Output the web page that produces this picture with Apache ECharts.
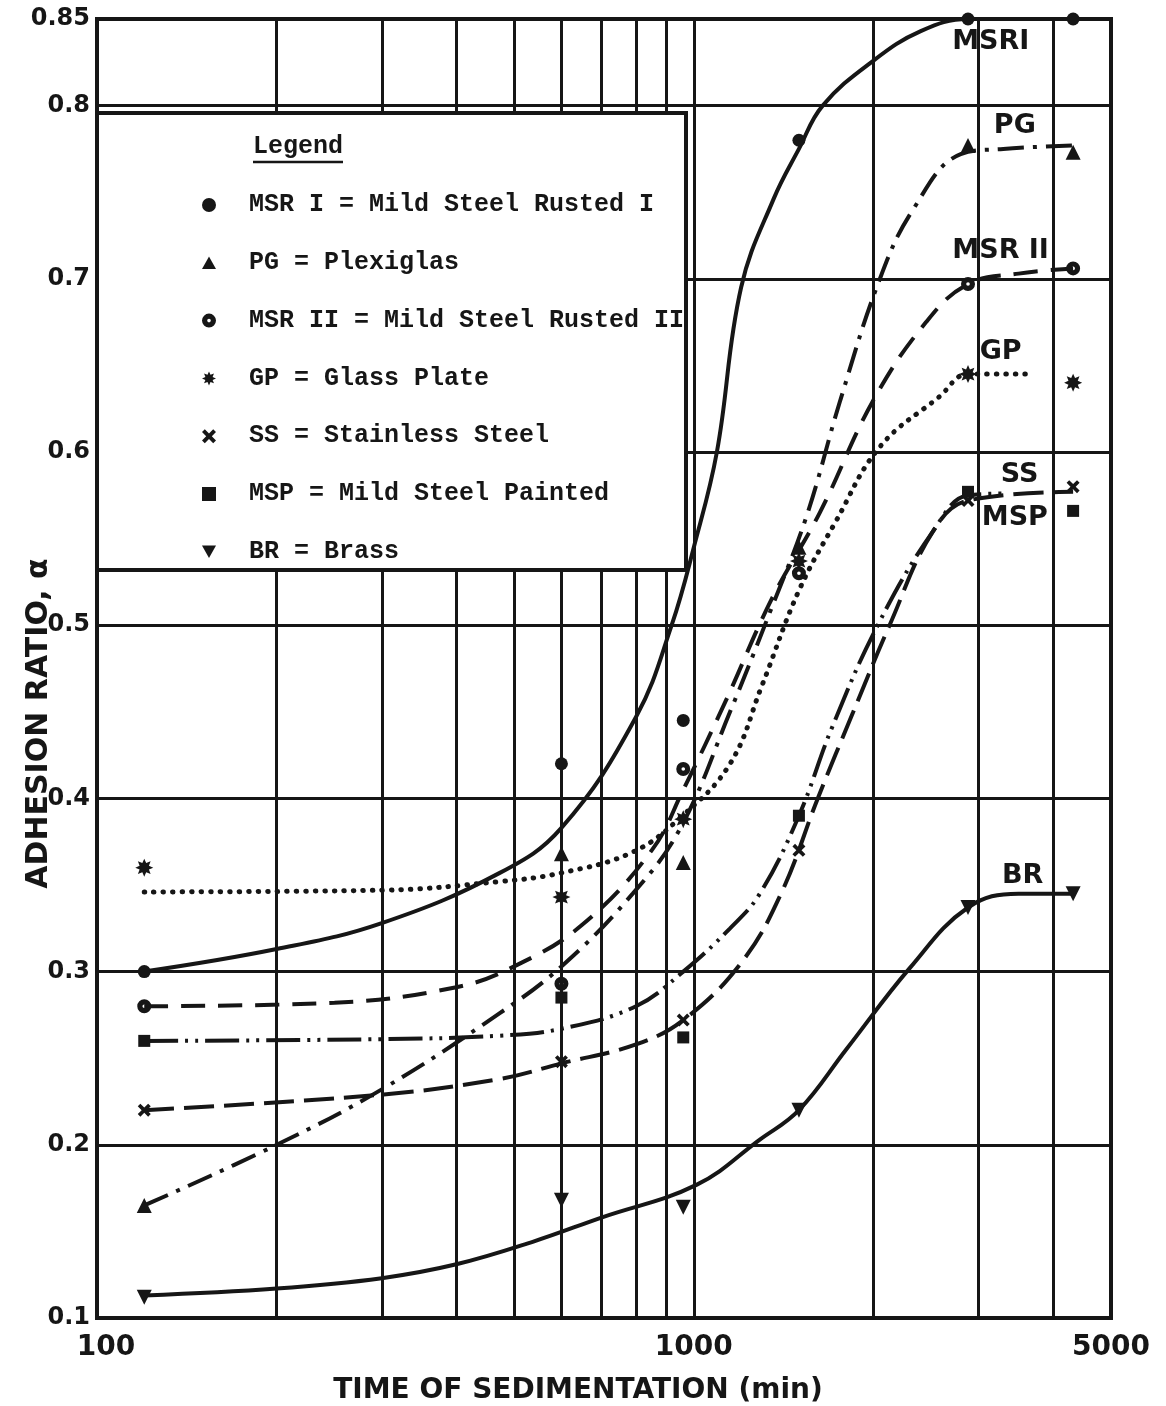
<!DOCTYPE html>
<html>
<head>
<meta charset="utf-8">
<script src="https://cdn.jsdelivr.net/npm/echarts@6/dist/echarts.min.js"></script>
<style>
  html, body { margin: 0; padding: 0; background: #ffffff; }
  #chart { width: 1166px; height: 1406px; }
</style>
</head>
<body>
<div id="chart"></div>
<script>
// Sampling times (min)
const times = [120, 600, 960, 1500, 2880, 4320];

// Measured adhesion ratios at each sampling time
const msr1 = [0.30, 0.42, 0.445, 0.78, 0.85, 0.85];
const pg   = [0.165, 0.368, 0.363, 0.545, 0.777, 0.773];
const msr2 = [0.28, 0.293, 0.417, 0.53, 0.697, 0.706];
const gp   = [0.36, 0.343, 0.388, 0.537, 0.645, 0.64];
const ss   = [0.22, 0.248, 0.272, 0.37, 0.572, 0.58];
const msp  = [0.26, 0.285, 0.262, 0.39, 0.577, 0.566];
const br   = [0.112, 0.168, 0.164, 0.22, 0.337, 0.345];

// Hand-fitted trend curves, [time, ratio]
const msr1Fit = [[120,0.30],[200,0.313],[300,0.328],[473,0.357],[600,0.383],[800,0.447],[918,0.50],[1000,0.545],[1093,0.60],[1200,0.695],[1360,0.746],[1500,0.775],[1644,0.80],[2000,0.826],[2400,0.843],[2880,0.85],[4320,0.85]];
const pgFit   = [[120,0.165],[200,0.20],[300,0.232],[473,0.276],[600,0.303],[790,0.345],[950,0.383],[1150,0.45],[1350,0.51],[1545,0.563],[1760,0.63],[2050,0.70],[2330,0.74],[2800,0.772],[3300,0.775],[4320,0.777]];
const msr2Fit = [[120,0.28],[250,0.282],[400,0.291],[500,0.303],[650,0.327],[850,0.37],[960,0.405],[1130,0.456],[1350,0.515],[1626,0.565],[2000,0.63],[2450,0.675],[2880,0.697],[3500,0.703],[4320,0.706]];
const gpFit   = [[120,0.346],[300,0.347],[473,0.352],[600,0.357],[790,0.369],[950,0.389],[1150,0.42],[1300,0.465],[1500,0.52],[1730,0.56],[2050,0.603],[2580,0.632],[2880,0.645],[3700,0.645]];
const ssFit   = [[120,0.22],[300,0.229],[473,0.238],[600,0.247],[800,0.258],[960,0.272],[1200,0.305],[1400,0.345],[1613,0.40],[1850,0.45],[2128,0.50],[2514,0.554],[2880,0.572],[4320,0.577]];
const mspFit  = [[120,0.26],[300,0.261],[473,0.263],[600,0.267],[800,0.28],[960,0.30],[1150,0.325],[1290,0.345],[1500,0.39],[1700,0.44],[2033,0.50],[2514,0.554],[2880,0.575],[3300,0.576]];
const brFit   = [[120,0.113],[200,0.117],[300,0.123],[400,0.131],[537,0.144],[700,0.158],[1012,0.177],[1290,0.203],[1500,0.22],[1800,0.255],[2300,0.302],[2880,0.337],[3500,0.345],[4320,0.345]];

// Graph-paper rulings
const gridTimes = [200, 300, 400, 500, 600, 700, 800, 900, 1000, 2000, 3000, 4000];

// Curve tags: [text, time, ratio]
const curveTags = [
  ['MSRI', 3145, 0.837],
  ['PG', 3450, 0.788],
  ['MSR II', 3266, 0.716],
  ['GP', 3266, 0.658],
  ['SS', 3515, 0.587],
  ['MSP', 3450, 0.562],
  ['BR', 3556, 0.355]
];

const legendNames = [
  'MSR I = Mild Steel Rusted I',
  'PG = Plexiglas',
  'MSR II = Mild Steel Rusted II',
  'GP = Glass Plate',
  'SS = Stainless Steel',
  'MSP = Mild Steel Painted',
  'BR = Brass'
];

const INK = '#161616';

// Marker shapes
function starPath() {
  const pts = [];
  for (let i = 0; i < 16; i++) {
    const a = i * Math.PI / 8;
    const r = i % 2 === 0 ? 10 : 5.6;
    pts.push((10 + r * Math.cos(a)).toFixed(2) + ',' + (10 + r * Math.sin(a)).toFixed(2));
  }
  return 'path://M' + pts.join(' L') + ' Z';
}
const SYM_STAR = starPath();
const SYM_X = 'path://M0,2 L2,0 L5,3 L8,0 L10,2 L7,5 L10,8 L8,10 L5,7 L2,10 L0,8 L3,5 Z';
const SYM_DOWN = 'path://M0,0 L10,0 L5,9 Z';
const SYM_UP = 'path://M5,0 L10,9 L0,9 Z';
const SYM_RING = 'path://M10,0 A10,10 0 1,1 9.99,0 Z M10,7.4 A2.6,2.6 0 1,0 10.01,7.4 Z';

const materials = [
  { name: legendNames[0], values: msr1, fit: msr1Fit, symbol: 'circle', size: 13, dash: 'solid' },
  { name: legendNames[1], values: pg,   fit: pgFit,   symbol: SYM_UP, size: 15, dash: [26, 9, 4, 9] },
  { name: legendNames[2], values: msr2, fit: msr2Fit, symbol: SYM_RING, size: 14, dash: [24, 13] },
  { name: legendNames[3], values: gp,   fit: gpFit,   symbol: SYM_STAR, size: 18, dash: [0.5, 9], dotted: true },
  { name: legendNames[4], values: ss,   fit: ssFit,   symbol: SYM_X, size: 13, dash: [30, 10] },
  { name: legendNames[5], values: msp,  fit: mspFit,  symbol: 'rect', size: 12, dash: [34, 7, 3, 7, 3, 7] },
  { name: legendNames[6], values: br,   fit: brFit,   symbol: SYM_DOWN, size: 15, dash: 'solid' }
];

const series = [];

// Vertical rulings at the log-decade subdivisions
series.push({
  name: 'rulings',
  type: 'line',
  data: [],
  silent: true,
  z: 1,
  markLine: {
    silent: true,
    symbol: ['none', 'none'],
    label: { show: false },
    animation: false,
    lineStyle: { color: INK, width: 3, type: 'solid' },
    data: gridTimes.map(t => ({ xAxis: t }))
  }
});

materials.forEach(m => {
  series.push({
    name: m.name + ' (trend)',
    type: 'line',
    data: m.fit,
    showSymbol: false,
    symbol: 'none',
    smooth: 0.4,
    silent: true,
    z: 3,
    lineStyle: {
      color: INK,
      width: m.dotted ? 5 : 4,
      type: m.dash,
      cap: m.dotted ? 'round' : 'butt'
    }
  });
  series.push({
    name: m.name,
    type: 'scatter',
    data: times.map((t, i) => [t, m.values[i]]),
    symbol: m.symbol,
    symbolSize: m.size,
    z: 4,
    itemStyle: { color: INK, opacity: 1 }
  });
});

series.push({
  name: 'tags',
  type: 'scatter',
  symbolSize: 0,
  silent: true,
  z: 5,
  itemStyle: { opacity: 1 },
  data: curveTags.map(c => ({ name: c[0], value: [c[1], c[2]] })),
  label: {
    show: true,
    position: 'inside',
    formatter: p => p.name,
    fontFamily: 'DejaVu Sans',
    fontWeight: 'bold',
    fontSize: 27,
    color: INK,
    opacity: 1
  }
});

const chart = echarts.init(document.getElementById('chart'), null, { renderer: 'canvas' });

chart.setOption({
  backgroundColor: '#ffffff',
  animation: false,
  grid: {
    left: 97, right: 55, top: 19, bottom: 88,
    containLabel: false,
    outerBoundsMode: 'none',
    show: true,
    borderColor: INK,
    borderWidth: 4,
    backgroundColor: 'transparent'
  },
  xAxis: {
    type: 'log',
    logBase: 10,
    min: 100,
    max: 5000,
    name: 'TIME OF SEDIMENTATION (min)',
    nameLocation: 'middle',
    nameGap: 59,
    nameMoveOverlap: false,
    nameTextStyle: {
      fontFamily: 'DejaVu Sans', fontWeight: 'bold', fontSize: 28, color: INK,
      padding: [0, 52, 0, 0]
    },
    axisLine: { show: false },
    axisTick: { show: false },
    splitLine: { show: false },
    axisLabel: {
      showMinLabel: true,
      showMaxLabel: true,
      margin: 16,
      fontFamily: 'DejaVu Sans', fontWeight: 'bold', fontSize: 28, color: INK,
      formatter: v => Math.round(v) === 100 ? '{lead|100}' : String(Math.round(v)),
      rich: {
        lead: { fontFamily: 'DejaVu Sans', fontWeight: 'bold', fontSize: 28, color: INK, padding: [0, 0, 0, 18] }
      }
    }
  },
  yAxis: {
    type: 'value',
    min: 0.1,
    max: 0.85,
    interval: 0.1,
    name: 'ADHESION RATIO, α',
    nameLocation: 'middle',
    nameRotate: 90,
    nameGap: 43,
    nameMoveOverlap: false,
    nameTextStyle: {
      fontFamily: 'DejaVu Sans', fontWeight: 'bold', fontSize: 30, color: INK,
      padding: [0, 110, 0, 0]
    },
    axisLine: { show: false },
    axisTick: { show: false },
    splitLine: { show: true, lineStyle: { color: INK, width: 3 } },
    axisLabel: {
      margin: 7,
      fontFamily: 'DejaVu Sans', fontWeight: 'bold', fontSize: 24, color: INK,
      formatter: v => String(parseFloat(v.toFixed(2)))
    }
  },
  legend: {
    orient: 'vertical',
    left: 197,
    top: 186,
    z: 20,
    selectedMode: false,
    itemWidth: 14,
    itemHeight: 14,
    itemGap: 29.8,
    data: legendNames,
    itemStyle: { opacity: 1 },
    textStyle: {
      fontFamily: 'Liberation Mono',
      fontWeight: 'bold',
      fontSize: 25,
      lineHeight: 28,
      color: INK,
      padding: [0, 0, 0, 28]
    }
  },
  graphic: [
    {
      type: 'rect',
      z: 10,
      shape: { x: 97, y: 113, width: 589, height: 457 },
      style: { fill: '#ffffff', stroke: INK, lineWidth: 4 }
    },
    {
      type: 'text',
      z: 21,
      left: 253,
      top: 134,
      style: {
        text: 'Legend',
        fontFamily: 'Liberation Mono',
        fontWeight: 'bold',
        fontSize: 25,
        fill: INK
      }
    },
    {
      type: 'line',
      z: 21,
      shape: { x1: 253, y1: 162, x2: 343, y2: 162 },
      style: { stroke: INK, lineWidth: 2.5 }
    }
  ],
  series: series
});
</script>
</body>
</html>
